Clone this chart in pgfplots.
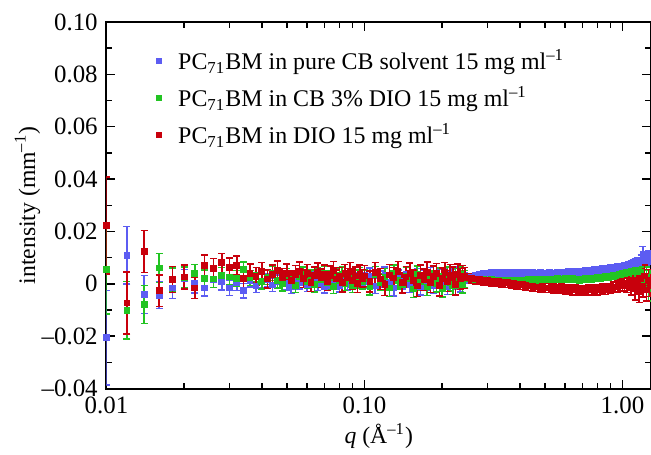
\documentclass[border=0pt]{standalone}
\usepackage{fontspec}
\setmainfont{Liberation Serif}
\usepackage{pgfplots}
\pgfplotsset{compat=1.18}
\usepackage{pgfplotstable}

\definecolor{cbblue}{HTML}{5C5CF2}
\definecolor{diogreen}{HTML}{22C422}
\definecolor{diored}{HTML}{C8000C}

% PC71BM in pure CB solvent
\pgfplotstableread{
q I err
0.010 -0.0206 0.0180
0.012 0.0109 0.0110
0.014 -0.0041 0.0072
0.016 -0.0044 0.0050
0.018 -0.0016 0.0040
0.020 0.0020 0.0035
0.022 0.0000 0.0035
0.024 -0.0016 0.0030
0.026 0.0016 0.0030
0.028 0.0007 0.0030
0.030 -0.0016 0.0028
0.032 0.0003 0.0028
0.034 -0.0027 0.0028
0.036 0.0012 0.0025
0.038 -0.0008 0.0025
0.040 0.0010 0.0025
0.042 0.0015 0.0025
0.044 -0.0005 0.0025
0.046 0.0008 0.0025
0.048 0.0020 0.0025
0.050 0.0002 0.0025
0.052 -0.0012 0.0025
0.054 0.0014 0.0025
0.056 0.0006 0.0025
0.058 0.0018 0.0025
0.060 -0.0004 0.0025
0.062 0.0010 0.0025
0.064 0.0022 0.0025
0.066 0.0000 0.0025
0.068 0.0012 0.0025
0.070 -0.0010 0.0025
0.072 0.0016 0.0025
0.074 0.0008 0.0025
0.076 0.0024 0.0025
0.078 0.0004 0.0025
0.080 -0.0006 0.0025
0.082 0.0014 0.0025
0.084 0.0020 0.0025
0.086 0.0002 0.0025
0.088 0.0012 0.0025
0.090 -0.0008 0.0025
0.092 0.0018 0.0025
0.094 0.0010 0.0025
0.096 0.0026 0.0025
0.098 0.0004 0.0025
0.100 0.0012 0.0030
0.105 0.0030 0.0030
0.110 -0.0008 0.0030
0.115 0.0018 0.0030
0.120 0.0034 0.0030
0.125 0.0004 0.0030
0.130 -0.0016 0.0030
0.135 0.0022 0.0030
0.140 0.0010 0.0030
0.145 0.0036 0.0030
0.150 -0.0004 0.0030
0.155 0.0014 0.0030
0.160 0.0028 0.0030
0.165 -0.0012 0.0030
0.170 0.0020 0.0030
0.175 0.0006 0.0030
0.180 0.0032 0.0030
0.185 -0.0006 0.0030
0.190 0.0016 0.0030
0.195 0.0024 0.0030
0.200 0.0002 0.0030
0.205 0.0030 0.0030
0.210 -0.0010 0.0030
0.215 0.0018 0.0030
0.220 0.0026 0.0030
0.225 0.0008 0.0030
0.230 0.0034 0.0030
0.235 -0.0002 0.0030
0.240 0.0020 0.0030
0.245 0.0012 0.0030
0.25 0.0022 0.0014
0.26 0.0026 0.0014
0.27 0.0030 0.0014
0.28 0.0032 0.0014
0.29 0.0036 0.0014
0.30 0.0034 0.0014
0.31 0.0038 0.0014
0.32 0.0036 0.0014
0.33 0.0040 0.0014
0.34 0.0038 0.0014
0.35 0.0036 0.0014
0.36 0.0040 0.0014
0.37 0.0038 0.0014
0.38 0.0036 0.0014
0.39 0.0040 0.0014
0.40 0.0038 0.0014
0.41 0.0036 0.0014
0.42 0.0038 0.0014
0.43 0.0040 0.0014
0.44 0.0036 0.0014
0.45 0.0038 0.0014
0.46 0.0036 0.0014
0.47 0.0034 0.0014
0.48 0.0038 0.0014
0.49 0.0036 0.0014
0.50 0.0036 0.0014
0.52 0.0038 0.0014
0.54 0.0036 0.0014
0.56 0.0040 0.0014
0.58 0.0038 0.0014
0.60 0.0040 0.0014
0.62 0.0042 0.0014
0.64 0.0040 0.0014
0.66 0.0044 0.0014
0.68 0.0042 0.0014
0.70 0.0044 0.0014
0.72 0.0046 0.0014
0.74 0.0044 0.0014
0.76 0.0048 0.0014
0.78 0.0050 0.0014
0.80 0.0048 0.0014
0.82 0.0052 0.0014
0.84 0.0054 0.0014
0.86 0.0052 0.0014
0.88 0.0056 0.0014
0.90 0.0058 0.0014
0.92 0.0056 0.0014
0.94 0.0060 0.0014
0.96 0.0062 0.0014
0.98 0.0060 0.0014
1.00 0.0064 0.0014
1.02 0.0066 0.0014
1.04 0.0068 0.0014
1.06 0.0070 0.0014
1.08 0.0072 0.0016
1.10 0.0074 0.0016
1.12 0.0078 0.0016
1.14 0.0082 0.0018
1.16 0.0080 0.0018
1.18 0.0090 0.0020
1.20 0.0112 0.0030
1.22 0.0100 0.0022
1.24 0.0094 0.0022
1.26 0.0104 0.0024
1.28 0.0098 0.0024
}\pure

% PC71BM in CB 3% DIO
\pgfplotstableread{
q I err
0.010 0.0054 0.0170
0.012 -0.0101 0.0110
0.014 -0.0079 0.0072
0.016 0.0060 0.0055
0.018 0.0016 0.0045
0.020 0.0024 0.0040
0.022 0.0039 0.0035
0.024 0.0020 0.0032
0.026 0.0018 0.0032
0.028 0.0032 0.0030
0.030 0.0026 0.0030
0.032 0.0020 0.0030
0.034 0.0054 0.0030
0.036 0.0022 0.0028
0.038 0.0034 0.0028
0.040 0.0008 0.0028
0.042 0.0026 0.0028
0.044 0.0040 0.0028
0.046 0.0012 0.0028
0.048 0.0000 0.0028
0.050 0.0030 0.0028
0.052 0.0018 0.0028
0.054 -0.0006 0.0028
0.056 0.0028 0.0028
0.058 0.0036 0.0028
0.060 0.0010 0.0028
0.062 0.0024 0.0028
0.064 -0.0004 0.0028
0.066 0.0032 0.0028
0.068 0.0016 0.0028
0.070 0.0040 0.0028
0.072 0.0006 0.0028
0.074 0.0022 0.0028
0.076 -0.0010 0.0028
0.078 0.0028 0.0028
0.080 0.0014 0.0028
0.082 0.0036 0.0028
0.084 0.0002 0.0028
0.086 0.0020 0.0028
0.088 0.0030 0.0028
0.090 -0.0006 0.0028
0.092 0.0024 0.0028
0.094 0.0012 0.0028
0.096 0.0034 0.0028
0.098 0.0008 0.0028
0.100 0.0020 0.0032
0.105 -0.0010 0.0032
0.110 0.0034 0.0032
0.115 0.0006 0.0032
0.120 0.0026 0.0032
0.125 -0.0016 0.0032
0.130 0.0040 0.0032
0.135 0.0012 0.0032
0.140 -0.0004 0.0032
0.145 0.0030 0.0032
0.150 0.0018 0.0032
0.155 -0.0020 0.0032
0.160 0.0036 0.0032
0.165 0.0008 0.0032
0.170 0.0024 0.0032
0.175 -0.0012 0.0032
0.180 0.0016 0.0032
0.185 0.0038 0.0032
0.190 0.0000 0.0032
0.195 0.0028 0.0032
0.200 -0.0018 0.0032
0.205 0.0022 0.0032
0.210 0.0032 0.0032
0.215 0.0004 0.0032
0.220 -0.0008 0.0032
0.225 0.0026 0.0032
0.230 0.0014 0.0032
0.235 0.0036 0.0032
0.240 -0.0004 0.0032
0.245 0.0018 0.0032
0.25 0.0020 0.0014
0.26 0.0018 0.0014
0.27 0.0016 0.0014
0.28 0.0018 0.0014
0.29 0.0016 0.0014
0.30 0.0014 0.0014
0.31 0.0016 0.0014
0.32 0.0014 0.0014
0.33 0.0012 0.0014
0.34 0.0014 0.0014
0.35 0.0012 0.0014
0.36 0.0014 0.0014
0.37 0.0012 0.0014
0.38 0.0010 0.0014
0.39 0.0012 0.0014
0.40 0.0014 0.0014
0.41 0.0012 0.0014
0.42 0.0014 0.0014
0.43 0.0016 0.0014
0.44 0.0014 0.0014
0.45 0.0016 0.0014
0.46 0.0014 0.0014
0.47 0.0016 0.0014
0.48 0.0018 0.0014
0.49 0.0016 0.0014
0.50 0.0018 0.0014
0.52 0.0016 0.0014
0.54 0.0018 0.0014
0.56 0.0020 0.0014
0.58 0.0018 0.0014
0.60 0.0020 0.0014
0.62 0.0018 0.0014
0.64 0.0020 0.0014
0.66 0.0018 0.0014
0.68 0.0016 0.0014
0.70 0.0018 0.0014
0.72 0.0020 0.0014
0.74 0.0018 0.0014
0.76 0.0020 0.0014
0.78 0.0022 0.0014
0.80 0.0024 0.0014
0.82 0.0022 0.0014
0.84 0.0026 0.0014
0.86 0.0028 0.0014
0.88 0.0026 0.0014
0.90 0.0030 0.0014
0.92 0.0032 0.0014
0.94 0.0030 0.0014
0.96 0.0034 0.0014
0.98 0.0036 0.0014
1.00 0.0038 0.0014
1.02 0.0040 0.0014
1.04 0.0042 0.0016
1.06 0.0044 0.0016
1.08 0.0046 0.0018
1.10 0.0048 0.0018
1.12 0.0050 0.0020
1.14 0.0046 0.0022
1.16 0.0052 0.0024
1.18 0.0040 0.0028
1.20 0.0030 0.0032
1.22 0.0010 0.0042
1.24 0.0026 0.0038
1.26 -0.0020 0.0045
1.28 0.0014 0.0038
}\mixed

% PC71BM in DIO
\pgfplotstableread{
q I err
0.010 0.0222 0.0185
0.012 -0.0073 0.0118
0.014 0.0124 0.0080
0.016 -0.0027 0.0060
0.018 0.0016 0.0050
0.020 0.0026 0.0045
0.022 -0.0016 0.0040
0.024 0.0070 0.0040
0.026 0.0058 0.0038
0.028 0.0080 0.0036
0.030 0.0062 0.0036
0.032 0.0070 0.0036
0.034 0.0020 0.0036
0.036 0.0040 0.0035
0.038 0.0028 0.0035
0.040 0.0046 0.0035
0.042 0.0018 0.0035
0.044 0.0036 0.0035
0.046 0.0052 0.0035
0.048 0.0024 0.0035
0.050 0.0040 0.0035
0.052 0.0014 0.0035
0.054 0.0034 0.0035
0.056 0.0048 0.0035
0.058 0.0020 0.0035
0.060 0.0038 0.0035
0.062 0.0006 0.0035
0.064 0.0030 0.0035
0.066 0.0044 0.0035
0.068 0.0022 0.0035
0.070 0.0036 0.0035
0.072 0.0010 0.0035
0.074 0.0032 0.0035
0.076 0.0050 0.0035
0.078 0.0018 0.0035
0.080 0.0028 0.0035
0.082 0.0004 0.0035
0.084 0.0038 0.0035
0.086 0.0024 0.0035
0.088 0.0046 0.0035
0.090 0.0014 0.0035
0.092 0.0030 0.0035
0.094 0.0002 0.0035
0.096 0.0036 0.0035
0.098 0.0020 0.0035
0.100 0.0030 0.0040
0.105 0.0008 0.0040
0.110 0.0042 0.0040
0.115 0.0018 0.0040
0.120 -0.0004 0.0040
0.125 0.0034 0.0040
0.130 0.0022 0.0040
0.135 0.0046 0.0040
0.140 0.0004 0.0040
0.145 0.0026 0.0040
0.150 0.0040 0.0040
0.155 0.0012 0.0040
0.160 -0.0008 0.0040
0.165 0.0032 0.0040
0.170 0.0016 0.0040
0.175 0.0044 0.0040
0.180 0.0006 0.0040
0.185 0.0028 0.0040
0.190 0.0038 0.0040
0.195 -0.0006 0.0040
0.200 0.0020 0.0040
0.205 0.0042 0.0040
0.210 0.0010 0.0040
0.215 0.0034 0.0040
0.220 0.0024 0.0040
0.225 -0.0002 0.0040
0.230 0.0036 0.0040
0.235 0.0018 0.0040
0.240 0.0030 0.0040
0.245 0.0022 0.0040
0.25 0.0022 0.0018
0.26 0.0020 0.0018
0.27 0.0018 0.0018
0.28 0.0016 0.0018
0.29 0.0014 0.0018
0.30 0.0012 0.0018
0.31 0.0010 0.0018
0.32 0.0010 0.0018
0.33 0.0008 0.0018
0.34 0.0006 0.0018
0.35 0.0004 0.0018
0.36 0.0004 0.0018
0.37 0.0002 0.0018
0.38 0.0000 0.0018
0.39 -0.0002 0.0018
0.40 -0.0004 0.0018
0.41 -0.0004 0.0018
0.42 -0.0006 0.0018
0.43 -0.0008 0.0018
0.44 -0.0008 0.0018
0.45 -0.0010 0.0018
0.46 -0.0012 0.0018
0.47 -0.0012 0.0018
0.48 -0.0014 0.0018
0.49 -0.0014 0.0018
0.50 -0.0016 0.0018
0.52 -0.0016 0.0018
0.54 -0.0018 0.0018
0.56 -0.0020 0.0018
0.58 -0.0018 0.0018
0.60 -0.0022 0.0018
0.62 -0.0020 0.0018
0.64 -0.0024 0.0018
0.66 -0.0022 0.0018
0.68 -0.0026 0.0018
0.70 -0.0024 0.0018
0.72 -0.0026 0.0018
0.74 -0.0022 0.0018
0.76 -0.0024 0.0018
0.78 -0.0020 0.0018
0.80 -0.0024 0.0018
0.82 -0.0022 0.0018
0.84 -0.0018 0.0018
0.86 -0.0022 0.0018
0.88 -0.0016 0.0018
0.90 -0.0018 0.0018
0.92 -0.0014 0.0020
0.94 -0.0012 0.0020
0.96 -0.0010 0.0022
0.98 -0.0008 0.0022
1.00 -0.0004 0.0024
1.02 0.0000 0.0026
1.04 -0.0006 0.0028
1.06 0.0004 0.0030
1.08 -0.0010 0.0032
1.10 0.0006 0.0034
1.12 -0.0020 0.0042
1.14 0.0010 0.0036
1.16 -0.0030 0.0042
1.18 0.0020 0.0038
1.20 -0.0010 0.0040
1.22 0.0030 0.0042
1.24 -0.0024 0.0042
1.26 0.0012 0.0042
1.28 -0.0006 0.0042
}\dio

\pgfplotsset{
  saxs/.style={
    only marks, mark=square*, mark size=1.15bp,
    error bars/.cd, y dir=both, y explicit,
    error bar style={line width=0.6bp},
    error mark options={rotate=90, mark size=1.4bp, line width=0.6bp},
  },
}

\begin{document}
\begin{tikzpicture}
\path[use as bounding box] (-42.6bp,-26.2bp) rectangle (217.8bp,155.4bp);
\begin{axis}[
    scale only axis,
    width=217.8bp, height=146.6bp,
    xmode=log,
    xmin=0.01, xmax=1.29,
    ymin=-0.04, ymax=0.10,
    xtick={0.01,0.1,1},
    xticklabels={0.01,0.10,1.00},
    minor xtick={0.02,0.03,0.04,0.05,0.06,0.07,0.08,0.09,0.2,0.3,0.4,0.5,0.6,0.7,0.8,0.9},
    ytick={-0.04,-0.02,0,0.02,0.04,0.06,0.08,0.10},
    yticklabels={--0.04,--0.02,0,0.02,0.04,0.06,0.08,0.10},
    minor ytick={-0.03,-0.01,0.01,0.03,0.05,0.07,0.09},
    major tick length=3.6bp, minor tick length=2.2bp,
    tick style={black, line width=0.6bp},
    axis line style={line width=0.8bp},
    xlabel={\textit{q} (Å\textsuperscript{--1})},
    ylabel={intensity (mm\textsuperscript{--1})},
    label style={font=\fontsize{9.5}{11}\selectfont},
    xlabel style={at={(axis description cs:0.5,0)}, anchor=center, yshift=-19bp},
    ylabel style={at={(axis description cs:-0.145,0.5)}, anchor=center},
    legend cell align=left,
    legend style={draw=none, fill=none, at={(axis description cs:0.09,0.94)},
      anchor=north west, row sep=1.3bp, inner sep=0pt,
      font=\fontsize{9.6}{11}\selectfont,
      /tikz/every odd column/.append style={column sep=4.5bp}},
    legend image code/.code={
      \fill (0bp,-1bp) rectangle (2bp,1bp);},
]
\addplot[cbblue, saxs] table[x=q, y=I, y error=err] {\pure};
\addlegendentry{PC\textsubscript{71}BM in pure CB solvent 15 mg ml\textsuperscript{--1}}
\addplot[diogreen, saxs] table[x=q, y=I, y error=err] {\mixed};
\addlegendentry{PC\textsubscript{71}BM in CB 3\% DIO 15 mg ml\textsuperscript{--1}}
\addplot[diored, saxs] table[x=q, y=I, y error=err] {\dio};
\addlegendentry{PC\textsubscript{71}BM in DIO 15 mg ml\textsuperscript{--1}}
\end{axis}
\end{tikzpicture}
\end{document}
